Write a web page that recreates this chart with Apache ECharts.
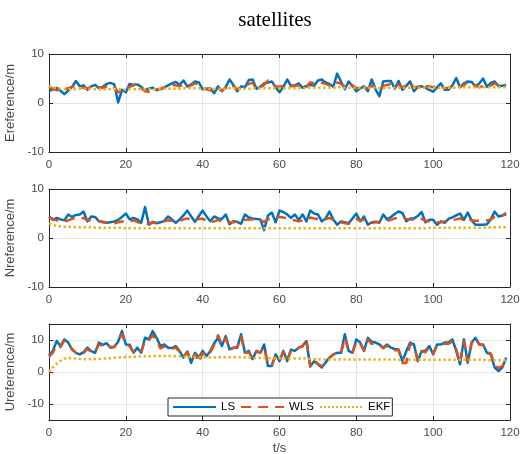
<!DOCTYPE html>
<html>
<head>
<meta charset="utf-8">
<script src="https://cdn.jsdelivr.net/npm/echarts@6/dist/echarts.min.js"></script>
<style>html,body{margin:0;padding:0;background:#fff}#c{width:527px;height:454px}</style>
</head>
<body>
<div id="c"></div>
<script>
// ---- data (t = 0..119 s) ----
var seriesNames = ['LS', 'WLS', 'EKF'];
var xTicks = [0, 20, 40, 60, 80, 100, 120];
var yNames = ['Ereference/m', 'Nreference/m', 'Ureference/m'];

var E_LS = [2.4,2.8,3.1,2.5,1.8,2.5,3.3,4.5,3.4,3.6,2.7,3.4,3.7,3.0,3.3,3.9,4.1,3.8,0.1,2.7,2.2,3.9,3.7,3.8,3.3,2.6,2.9,3.1,2.6,2.8,3.2,3.6,4.0,4.3,3.7,4.6,3.4,3.8,4.4,4.2,2.8,2.9,3.0,2.0,3.4,2.4,3.3,4.8,3.7,2.4,3.4,3.2,4.7,4.8,2.9,3.3,4.0,4.2,4.4,3.2,2.2,3.3,4.8,3.5,3.6,4.0,3.1,3.5,3.7,3.5,4.6,4.8,4.2,3.9,3.3,6.0,4.4,2.8,4.4,3.4,2.4,3.0,3.4,2.4,4.8,2.8,1.4,4.4,4.5,4.5,2.9,4.5,2.7,3.5,4.4,2.4,3.3,3.4,3.1,2.7,2.3,3.2,4.0,2.7,2.7,3.6,5.1,3.2,4.0,4.4,4.3,3.4,4.0,5.0,3.3,4.1,4.4,3.4,3.5,3.6];
var E_WLS = [3.3,2.9,2.6,2.7,2.8,3.0,3.3,3.5,3.2,3.1,3.0,3.3,3.5,3.2,3.1,3.4,3.6,3.3,2.2,2.5,2.7,3.3,3.6,4.0,3.1,2.4,2.3,2.6,2.8,2.9,3.1,3.5,3.7,3.6,3.4,3.8,3.3,3.6,4.0,3.7,3.0,2.8,2.6,2.3,2.9,2.5,3.0,3.8,3.4,2.8,3.1,3.2,3.9,4.1,3.1,3.2,3.7,4.6,4.0,3.4,3.3,3.5,3.7,3.4,3.5,3.6,3.2,3.3,4.2,4.1,4.3,4.1,3.9,3.6,3.4,4.2,3.9,3.4,4.0,3.6,3.0,3.1,3.3,3.0,3.5,3.2,3.0,3.5,3.7,3.9,3.4,3.8,3.2,3.6,4.1,3.1,3.3,3.2,3.4,3.4,3.2,3.4,3.5,3.0,3.1,3.3,3.6,3.4,3.6,4.2,3.8,3.6,3.2,3.5,3.2,3.6,4.0,3.7,3.8,3.7];
var E_EKF = [3.5,3.2,3.0,2.9,2.8,2.8,2.8,2.8,2.9,2.9,2.9,2.9,2.8,2.8,2.8,2.8,2.8,2.8,2.8,2.7,2.7,2.8,2.8,2.8,2.9,2.8,2.8,2.8,2.8,2.8,2.9,2.9,2.9,2.9,2.9,3.0,3.0,3.0,3.0,3.0,3.0,2.9,2.9,2.9,2.9,2.9,2.9,3.0,3.0,2.9,2.9,2.9,2.9,3.0,3.0,3.0,3.0,3.0,3.0,3.0,3.0,3.0,3.0,3.0,3.0,3.0,3.0,3.0,3.1,3.1,3.1,3.1,3.1,3.1,3.1,3.2,3.2,3.1,3.1,3.1,3.1,3.1,3.1,3.1,3.1,3.1,3.0,3.0,3.1,3.1,3.1,3.1,3.1,3.1,3.1,3.1,3.1,3.1,3.1,3.1,3.1,3.1,3.1,3.1,3.1,3.1,3.2,3.2,3.2,3.2,3.2,3.2,3.2,3.2,3.2,3.2,3.2,3.2,3.2,3.2];

var N_LS = [4.4,3.7,4.1,3.8,3.6,4.8,4.3,4.7,4.8,5.4,3.4,4.4,4.3,3.4,3.2,3.1,3.2,3.4,3.7,4.3,5.0,3.8,4.1,3.8,3.1,6.3,2.7,3.3,3.0,3.2,3.5,4.4,3.8,3.1,3.8,4.6,5.6,4.4,3.3,4.5,5.6,4.4,3.4,4.4,4.0,3.9,4.8,2.8,3.4,3.3,2.9,4.8,4.2,4.0,3.9,3.8,1.6,4.6,5.2,3.2,5.6,5.3,4.8,4.1,4.8,3.7,4.8,3.4,5.6,5.0,4.8,3.4,4.0,5.4,3.8,2.7,3.4,3.2,3.0,4.0,5.0,3.4,4.4,2.7,3.2,3.3,3.1,4.8,3.8,4.3,4.9,5.4,5.1,3.4,4.0,4.0,4.5,5.3,3.2,3.7,3.7,2.7,3.4,3.1,3.9,4.2,4.6,5.0,3.7,5.2,3.6,2.7,2.7,2.7,2.8,3.8,5.4,4.4,4.6,5.1];
var N_WLS = [4.2,3.9,3.6,3.5,3.3,3.6,3.9,4.1,4.0,4.1,3.6,3.6,3.8,3.5,3.3,3.1,3.0,3.0,3.2,3.4,3.2,3.3,3.6,3.3,2.9,3.0,2.9,3.1,3.2,3.3,3.4,3.6,3.5,3.3,3.5,3.8,4.0,3.7,3.6,3.9,4.0,3.4,3.2,3.4,3.7,3.3,3.6,3.2,3.2,3.3,3.3,3.7,3.8,3.8,3.7,3.6,3.3,3.8,4.1,4.0,4.3,4.2,4.0,3.7,3.6,3.4,3.6,3.5,4.2,4.0,3.9,3.6,3.8,4.1,3.7,3.3,3.2,3.0,2.9,3.4,3.9,3.5,3.8,3.1,3.1,3.2,3.3,3.6,3.5,3.7,4.0,4.1,4.2,3.9,3.8,3.7,3.8,3.9,3.5,3.4,3.4,3.2,3.2,3.4,3.6,3.7,3.8,4.0,3.6,4.0,3.6,3.5,3.5,3.6,3.6,3.8,4.3,4.5,4.6,4.8];
var N_EKF = [3.0,2.7,2.5,2.4,2.3,2.3,2.2,2.2,2.2,2.2,2.2,2.2,2.1,2.1,2.1,2.1,2.1,2.1,2.1,2.1,2.0,2.0,2.0,2.0,2.0,2.0,2.0,2.0,2.0,2.0,2.0,2.0,2.0,2.0,2.0,2.0,2.0,2.0,2.0,2.0,2.0,2.0,2.0,2.0,2.0,2.0,2.0,2.0,2.0,2.0,2.0,2.0,2.0,2.0,2.0,2.0,2.0,2.0,2.0,2.0,2.0,2.0,2.0,2.0,2.0,2.0,2.0,2.0,2.0,2.0,2.0,2.0,2.0,2.0,2.0,2.0,2.0,2.0,2.0,2.0,2.0,2.0,2.0,2.0,2.0,2.0,2.0,2.0,2.0,2.0,2.0,2.0,2.0,2.0,2.0,2.0,2.0,2.0,2.0,2.1,2.1,2.1,2.1,2.1,2.1,2.1,2.1,2.1,2.1,2.1,2.1,2.1,2.1,2.1,2.1,2.2,2.2,2.2,2.2,2.2];

var U_LS = [5.2,6.6,9.7,8.1,10.2,9.2,7.0,6.0,5.5,6.2,7.6,6.5,6.0,9.2,8.5,9.0,7.6,7.8,9.5,12.8,8.6,8.5,6.0,7.6,6.0,10.7,10.2,12.8,10.7,8.1,8.6,7.6,7.5,8.1,6.5,4.5,6.4,2.9,6.0,4.5,6.6,5.0,6.6,9.0,10.7,8.1,11.2,7.1,7.6,7.6,11.8,6.0,6.6,4.0,6.6,6.0,8.6,1.9,1.9,5.5,3.4,6.6,3.4,7.0,6.6,7.6,8.1,9.7,1.7,3.4,2.4,1.4,3.0,4.5,5.5,6.0,6.0,11.8,6.6,6.0,10.2,9.2,6.6,10.7,9.5,9.2,8.6,7.6,8.6,7.6,7.2,7.0,3.4,6.5,9.2,8.6,3.4,6.6,6.6,8.1,5.5,8.6,8.6,9.2,9.2,10.2,6.6,2.4,10.2,2.9,9.2,10.7,8.6,8.6,6.0,5.5,1.4,0.3,1.4,4.5];
var U_WLS = [4.8,6.0,8.5,7.8,9.8,9.0,7.2,6.0,5.4,5.9,7.2,6.3,6.3,8.6,8.2,8.8,7.8,7.9,9.8,11.8,8.8,8.0,6.2,7.2,6.4,9.8,10.0,11.5,9.8,7.4,8.0,7.4,7.2,7.6,6.3,4.8,6.2,3.5,5.6,3.0,6.0,5.0,6.2,8.5,11.5,8.5,10.6,7.0,7.5,7.8,11.0,6.0,6.2,4.4,6.4,6.0,7.8,2.2,2.3,5.0,3.6,6.2,3.8,6.8,6.4,7.6,8.0,10.3,1.8,3.6,2.6,1.8,3.0,4.4,5.4,6.0,5.6,10.8,6.4,6.0,9.6,8.8,6.8,10.2,8.8,8.8,8.4,7.4,8.2,7.2,6.8,6.8,2.8,2.8,8.8,8.2,3.8,6.4,6.2,7.8,5.8,8.2,8.4,8.8,8.8,9.6,7.0,3.0,9.6,3.4,9.0,10.5,8.6,8.4,6.2,5.8,2.2,1.2,1.8,3.8];
var U_EKF = [0.0,1.5,2.6,3.5,4.2,4.4,4.3,4.2,4.1,4.0,4.0,4.0,4.1,4.1,4.2,4.2,4.3,4.4,4.5,4.6,4.7,4.7,4.8,4.8,4.9,4.9,4.9,5.0,5.0,5.0,5.0,5.0,5.0,4.9,4.9,4.8,4.8,4.7,4.7,4.6,4.6,4.5,4.5,4.5,4.6,4.6,4.6,4.6,4.6,4.6,4.6,4.5,4.5,4.4,4.4,4.4,4.4,4.3,4.3,4.3,4.3,4.3,4.2,4.2,4.2,4.2,4.2,4.2,4.1,4.0,4.0,3.9,3.9,3.9,3.9,3.9,3.9,3.9,3.9,3.9,3.9,3.9,3.9,3.9,3.9,3.9,3.9,3.9,3.9,3.9,3.9,3.8,3.8,3.8,3.8,3.8,3.8,3.8,3.8,3.8,3.8,3.8,3.8,3.8,3.8,3.8,3.8,3.8,3.8,3.8,3.8,3.8,3.8,3.8,3.7,3.7,3.7,3.7,3.7,3.7];

var panels = [
  {name: yNames[0], data: [E_LS, E_WLS, E_EKF], min: -10, max: 10, ticks: [-10, 0, 10]},
  {name: yNames[1], data: [N_LS, N_WLS, N_EKF], min: -10, max: 10, ticks: [-10, 0, 10]},
  {name: yNames[2], data: [U_LS, U_WLS, U_EKF], min: -15, max: 15, ticks: [-10, 0, 10]}
];

// ---- styling ----
var colors = ['#0072BD', '#D95319', '#EDB120'];
var lineTypes = ['solid', [10, 7], 'dotted'];
var FONT = '"Liberation Sans", Arial, Helvetica, sans-serif';
var AX = '#262626';
var LBL = '#4a4a4a';
var GRIDC = '#e4e4e4';
var grids = [
  {left: 49, top: 54, width: 461, height: 98, outerBoundsMode: 'none', containLabel: false},
  {left: 49, top: 189, width: 461, height: 98, outerBoundsMode: 'none', containLabel: false},
  {left: 49, top: 324, width: 461, height: 96, outerBoundsMode: 'none', containLabel: false}
];

function pairs(arr) { return arr.map(function (v, i) { return [i, v]; }); }

var xAxes = [], yAxes = [], series = [];
panels.forEach(function (p, g) {
  var xi = xAxes.length, yi = yAxes.length;
  xAxes.push({
    type: 'value', gridIndex: g, min: 0, max: 120, interval: 20, position: 'bottom',
    name: g === 2 ? 't/s' : '', nameLocation: 'middle', nameGap: 22,
    nameTextStyle: {fontFamily: FONT, fontSize: 13, color: LBL},
    axisLine: {show: true, onZero: false, lineStyle: {color: AX, width: 1}},
    axisTick: {show: true, inside: true, length: 4, lineStyle: {color: AX}},
    axisLabel: {fontFamily: FONT, fontSize: 11.5, color: LBL, margin: 7},
    splitLine: {show: true, lineStyle: {color: GRIDC, width: 1}}
  });
  xAxes.push({
    type: 'value', gridIndex: g, min: 0, max: 120, interval: 20, position: 'top',
    axisLine: {show: true, onZero: false, lineStyle: {color: AX, width: 1}},
    axisTick: {show: true, inside: true, length: 4, lineStyle: {color: AX}},
    axisLabel: {show: false}, splitLine: {show: false}
  });
  yAxes.push({
    type: 'value', gridIndex: g, min: p.min, max: p.max, position: 'left',
    name: p.name, nameLocation: 'middle', nameGap: 24, nameRotate: 90,
    nameTextStyle: {fontFamily: FONT, fontSize: 13, color: LBL},
    axisLine: {show: true, onZero: false, lineStyle: {color: AX, width: 1}},
    axisTick: {show: true, inside: true, length: 4, lineStyle: {color: AX}, customValues: p.ticks},
    axisLabel: {fontFamily: FONT, fontSize: 11.5, color: LBL, margin: 5, customValues: p.ticks},
    splitLine: {show: true, lineStyle: {color: GRIDC, width: 1}}
  });
  yAxes.push({
    type: 'value', gridIndex: g, min: p.min, max: p.max, position: 'right',
    axisLine: {show: true, onZero: false, lineStyle: {color: AX, width: 1}},
    axisTick: {show: true, inside: true, length: 4, lineStyle: {color: AX}, customValues: p.ticks},
    axisLabel: {show: false, customValues: p.ticks}, splitLine: {show: false}
  });
  p.data.forEach(function (arr, k) {
    series.push({
      name: seriesNames[k], type: 'line', xAxisIndex: xi, yAxisIndex: yi,
      data: pairs(arr), showSymbol: false, symbol: 'none', animation: false,
      lineStyle: {color: colors[k], width: 2.5, type: lineTypes[k], cap: 'butt', join: 'round'},
      itemStyle: {color: colors[k]}, z: 2 + k
    });
  });
});

var chart = echarts.init(document.getElementById('c'), null, {renderer: 'canvas'});
chart.setOption({
  backgroundColor: '#ffffff',
  animation: false,
  title: {
    text: 'satellites', left: 270, top: 5, textAlign: 'center',
    textStyle: {fontFamily: '"Liberation Serif", "Times New Roman", serif', fontSize: 21, fontWeight: 'normal', color: '#000'}
  },
  legend: {
    data: seriesNames, left: 168, top: 398, orient: 'horizontal',
    backgroundColor: '#ffffff', borderColor: AX, borderWidth: 1, borderRadius: 0,
    padding: [3, 2, 3, 4], itemGap: 5, itemWidth: 43, itemHeight: 10,
    itemStyle: {opacity: 0},
    textStyle: {fontFamily: FONT, fontSize: 11.5, color: '#000'}
  },
  grid: grids,
  xAxis: xAxes,
  yAxis: yAxes,
  series: series
});
</script>
</body>
</html>
